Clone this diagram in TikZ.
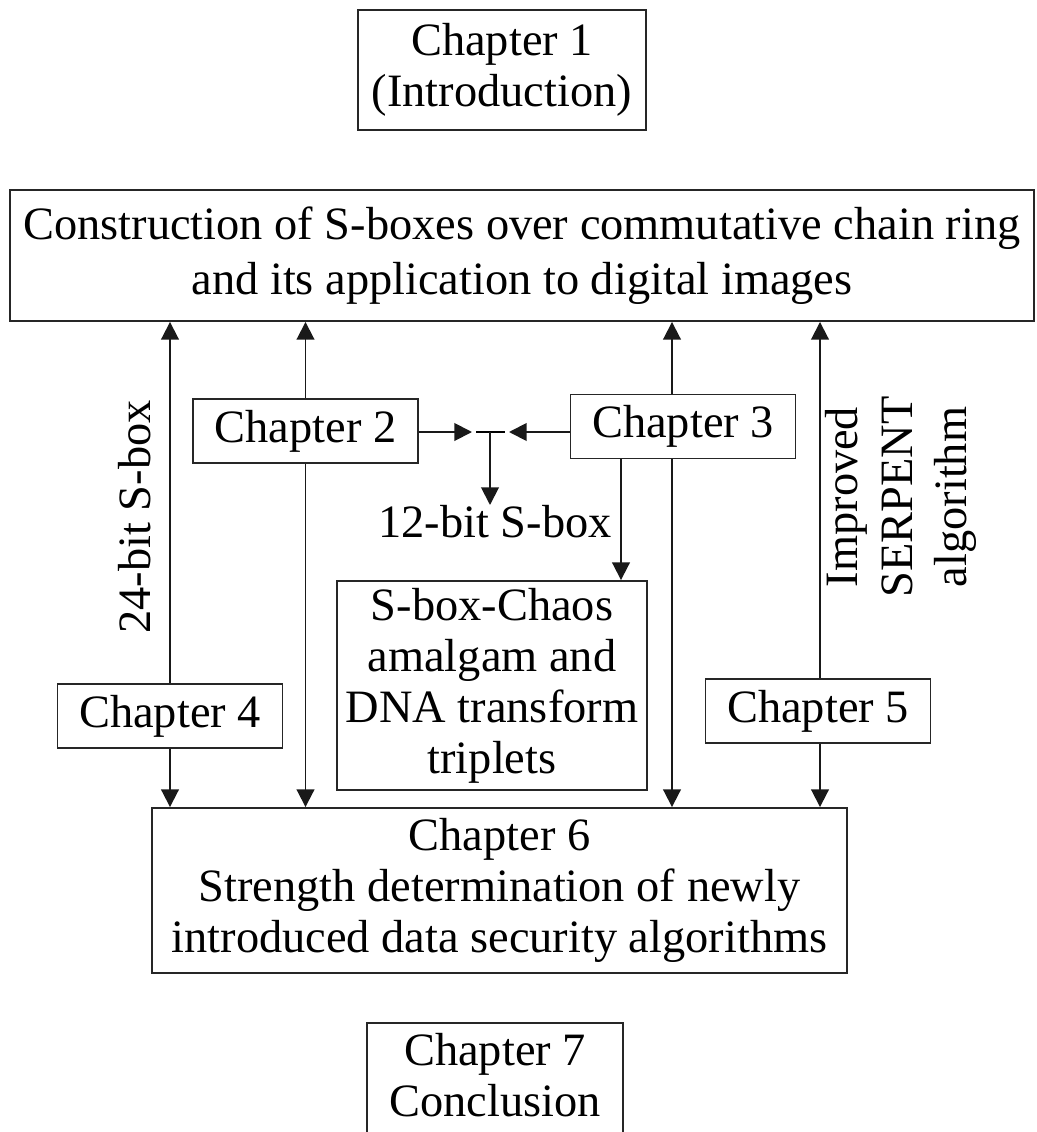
\documentclass[tikz,border=0pt]{standalone}
\usepackage{fontspec}
\setmainfont{Liberation Serif}
\usetikzlibrary{arrows.meta,calc,positioning}

\begin{document}
\begin{tikzpicture}[
  x=0.02cm, y=-0.02cm,
  font=\fontsize{26.4}{29}\selectfont,
  box/.style={draw=black!85, line width=1.1pt, align=center, inner sep=0pt},
  chapter/.style={box, minimum width=4.5cm, minimum height=1.28cm},
  link/.style={-{Triangle[length=10pt,width=10pt]}, line width=1.1pt, draw=black!90},
  note/.style={align=center, inner sep=0pt}
]

\useasboundingbox (0,0) rectangle (1037,1132);

% Boxes
\node[box, minimum width=5.76cm, minimum height=2.4cm] (ch1) at (502,70)
  {Chapter 1\\(Introduction)};
\node[box, minimum width=20.48cm, minimum height=2.62cm,
  font=\fontsize{26.4}{31}\selectfont] (main) at (522,255.5)
  {Construction of S-boxes over commutative chain ring\\and its application to digital images};

\node[chapter] (ch2) at (305.5,431) {Chapter 2};
\node[chapter] (ch3) at (683,426.5) {Chapter 3};
\node[chapter] (ch4) at (170,716) {Chapter 4};
\node[chapter] (ch5) at (818,711) {Chapter 5};

\node[box, minimum width=6.2cm, minimum height=4.18cm] (chaos) at (492,685.5)
  {S-box-Chaos\\amalgam and\\DNA transform\\triplets};

\node[box, minimum width=13.9cm, minimum height=3.3cm] (ch6) at (499.5,890.5)
  {Chapter 6\\Strength determination of newly\\introduced data security algorithms};

\node[box, minimum width=5.12cm, minimum height=3cm, anchor=north] (ch7) at (495,1022) {};
\node[note, below=0.22cm of ch7.north] (ch7txt) {Chapter 7\\Conclusion};

% Vertical links
\coordinate (up3) at (672,0);
\coordinate (sub3) at (621,0);
\coordinate (up5) at (820,0);

\draw[link] (ch4.north) -- (ch4.north |- main.south);
\draw[link] (ch4.south) -- (ch4.south |- ch6.north);
\draw[link] (ch2.north) -- (ch2.north |- main.south);
\draw[link] (ch2.south) -- (ch2.south |- ch6.north);
\draw[link] (ch3.north -| up3) -- (up3 |- main.south);
\draw[link] (ch3.south -| up3) -- (up3 |- ch6.north);
\draw[link] (ch3.south -| sub3) -- (sub3 |- chaos.north);
\draw[link] (ch5.north -| up5) -- (up5 |- main.south);
\draw[link] (ch5.south -| up5) -- (up5 |- ch6.north);

% Chapters 2 and 3 meet in the 12-bit S-box
\coordinate (jn) at (490,432);
\coordinate (jl) at (472,432);
\coordinate (jr) at (509,432);
\coordinate (jd) at (490,505);
\draw[link] (ch2.east |- jn) -- (jl);
\draw[link] (ch3.west |- jn) -- (jr);
\draw[line width=1.1pt] (476,432) -- (505,432);
\draw[link] (jn) -- (jd);

% Labels
\node[note] (sbox12) at (495,522) {12-bit S-box};
\node[note, rotate=90] (sbox24) at (135,517) {24-bit S-box};
\node[note, rotate=90, font=\fontsize{26.4}{31}\selectfont] (serpent) at (901,497)
  {Improved\\SERPENT\\algorithm};

\end{tikzpicture}
\end{document}
